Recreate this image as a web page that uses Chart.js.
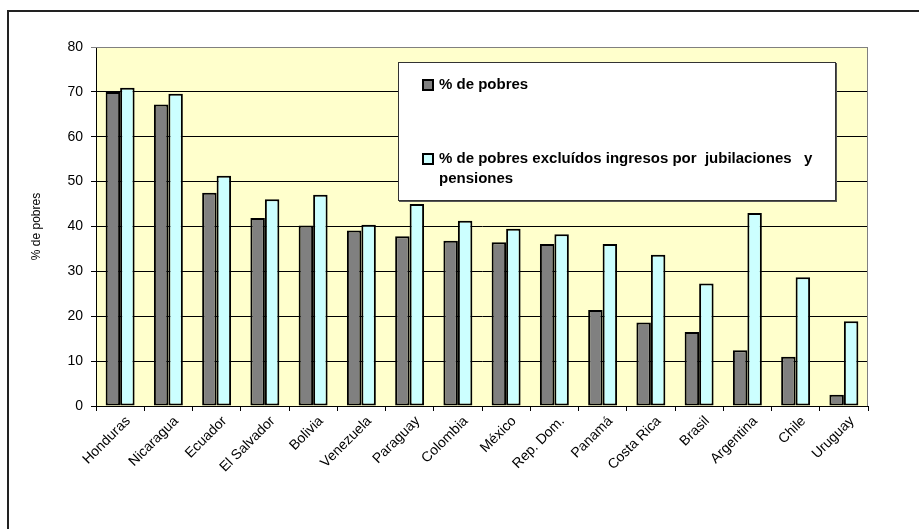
<!DOCTYPE html>
<html>
<head>
<meta charset="utf-8">
<script src="https://cdn.jsdelivr.net/npm/chart.js@4.4.0/dist/chart.umd.min.js"></script>
<style>
  html, body { margin: 0; padding: 0; background: #fff; }
  #wrap { position: relative; width: 919px; height: 529px; overflow: hidden; }
  #frame {
    position: absolute; left: 7px; top: 10px; width: 940px; height: 560px;
    border-left: 2px solid #222; border-top: 2px solid #222;
  }
  #legend {
    position: absolute; left: 398px; top: 62px; width: 436px; height: 137px;
    background: #fff; border: 1px solid #333; box-shadow: 1px 1px 0 #555;
    font: bold 15px "Liberation Sans", Arial, sans-serif; color: #000;
  }
  .item {
    position: absolute; left: 23px; padding-left: 17px; line-height: 20px; width: 392px;
    white-space: pre-wrap;
  }
  .swatch {
    position: absolute; left: 0; top: 5px; width: 8px; height: 8px;
    border: 2px solid #000;
  }
</style>
</head>
<body>
<div id="wrap">
  <canvas id="chart" width="919" height="529"></canvas>
  <div id="frame"></div>
  <div id="legend"></div>
</div>
<script>
const categories = ['Honduras', 'Nicaragua', 'Ecuador', 'El Salvador', 'Bolivia', 'Venezuela',
  'Paraguay', 'Colombia', 'México', 'Rep. Dom.', 'Panamá', 'Costa Rica', 'Brasil',
  'Argentina', 'Chile', 'Uruguay'];

// % de pobres
const pobres = [70.0, 67.2, 47.5, 41.9, 40.2, 39.1, 37.8, 36.8, 36.5, 36.1, 21.4, 18.6, 16.5, 12.4, 11.0, 2.5];
// % de pobres sin ingresos por jubilaciones y pensiones
const pobresSinJub = [70.9, 69.6, 51.3, 46.1, 47.1, 40.4, 45.0, 41.3, 39.5, 38.3, 36.1, 33.7, 27.3, 43.0, 28.7, 18.9];

const seriesNames = ['% de pobres', '% de pobres excluídos ingresos por  jubilaciones   y pensiones'];
const seriesColors = ['#808080', '#CCFFFF'];
const yMin = 0, yMax = 80, yStep = 10;
const yTitle = '% de pobres';

const FONT = '"Liberation Sans", Arial, sans-serif';

// fondo amarillo del área de trazado y su marco gris
const plotBg = {
  id: 'plotBg',
  beforeDraw(chart) {
    const { ctx, chartArea: a } = chart;
    ctx.save();
    ctx.fillStyle = '#FFFFCC';
    ctx.fillRect(a.left, a.top, a.right - a.left, a.bottom - a.top);
    ctx.restore();
  },
  beforeDatasetsDraw(chart) {
    const { ctx, chartArea: a } = chart;
    ctx.save();
    ctx.strokeStyle = '#808080';
    ctx.lineWidth = 1;
    ctx.beginPath();
    ctx.moveTo(a.left, a.top + 0.5);
    ctx.lineTo(a.right - 0.5, a.top + 0.5);
    ctx.lineTo(a.right - 0.5, a.bottom);
    ctx.stroke();
    ctx.restore();
  }
};

const chart = new Chart(document.getElementById('chart'), {
  type: 'bar',
  data: {
    labels: categories,
    datasets: [pobres, pobresSinJub].map((d, i) => ({
      label: seriesNames[i],
      data: d,
      backgroundColor: seriesColors[i],
      borderColor: '#000',
      borderWidth: 2,
      borderSkipped: false,
      barPercentage: 1,
      categoryPercentage: 0.6
    }))
  },
  options: {
    responsive: false,
    animation: false,
    layout: { padding: { top: 47, right: 51, left: 0, bottom: 0 } },
    plugins: { legend: { display: false }, tooltip: { enabled: false } },
    scales: {
      x: {
        afterFit(scale) { scale.height = 123; },
        grid: { offset: true, drawOnChartArea: false, tickLength: 5, color: '#000' },
        border: { color: '#000', width: 1 },
        ticks: {
          autoSkip: false, minRotation: 45, maxRotation: 45, padding: 2, labelOffset: 8,
          color: '#000', font: { family: FONT, size: 14 }
        }
      },
      y: {
        min: yMin, max: yMax,
        afterFit(scale) { scale.width = 96; },
        grid: {
          tickLength: 5,
          color: c => (c.tick && c.tick.value === yMax) ? '#808080' : '#000'
        },
        border: { color: '#000', width: 1 },
        ticks: { stepSize: yStep, padding: 8, color: '#000', font: { family: FONT, size: 14 } },
        title: {
          display: true, text: yTitle, color: '#000',
          font: { family: FONT, size: 12 }, padding: { top: 29, bottom: 0 }
        }
      }
    }
  },
  plugins: [plotBg]
});

// leyenda dentro del área de trazado
const legend = document.getElementById('legend');
const itemTops = [11, 85];
seriesNames.forEach((name, i) => {
  const item = document.createElement('div');
  item.className = 'item';
  item.style.top = itemTops[i] + 'px';
  const sw = document.createElement('span');
  sw.className = 'swatch';
  sw.style.background = seriesColors[i];
  item.appendChild(sw);
  item.appendChild(document.createTextNode(name));
  legend.appendChild(item);
});
</script>
</body>
</html>
